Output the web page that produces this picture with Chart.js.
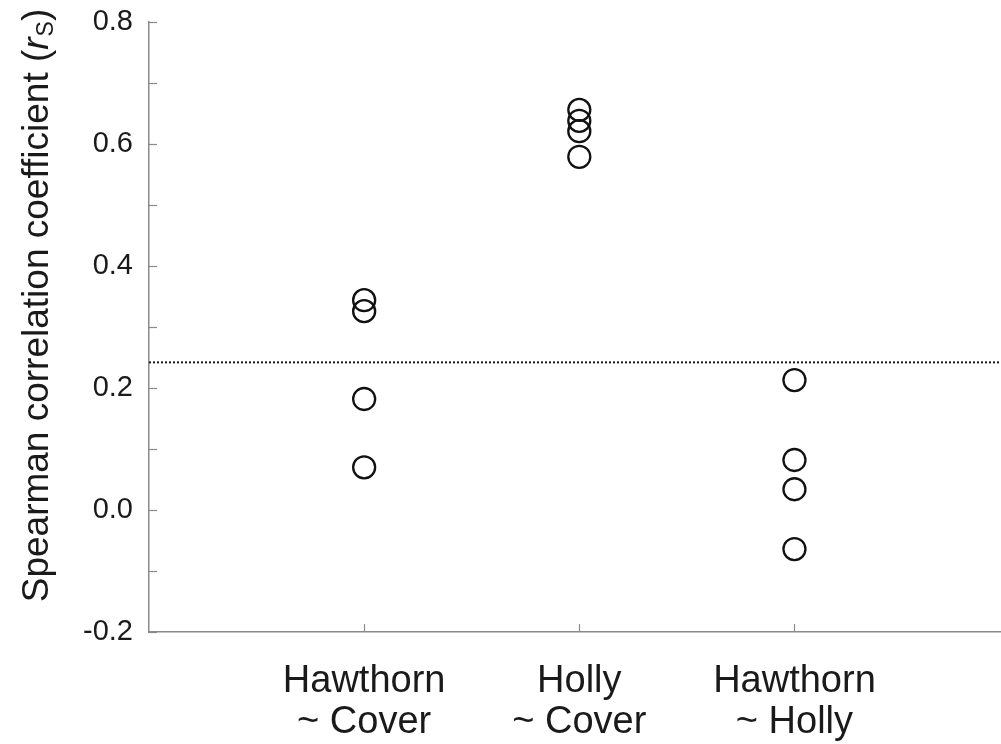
<!DOCTYPE html>
<html>
<head>
<meta charset="utf-8">
<style>
  html, body { margin: 0; padding: 0; background: #fff; }
  canvas { display: block; }
</style>
<script src="https://cdn.jsdelivr.net/npm/chart.js@4/dist/chart.umd.min.js"></script>
</head>
<body>
<canvas id="chart" width="1001" height="744"></canvas>
<script>
// Spearman coefficients per comparison
const categories = [["Hawthorn", "~ Cover"], ["Holly", "~ Cover"], ["Hawthorn", "~ Holly"]];
const hawthornCover = [0.344, 0.326, 0.182, 0.070];
const hollyCover = [0.656, 0.638, 0.621, 0.579];
const hawthornHolly = [0.213, 0.082, 0.034, -0.064];
const threshold = 0.242;
const yTickValues = [-0.2, -0.1, 0.0, 0.1, 0.2, 0.3, 0.4, 0.5, 0.6, 0.7, 0.8];
const categoryPositions = [1, 2, 3];

const FONT = "'Liberation Sans', Arial, Helvetica, sans-serif";
const AXIS_COLOR = '#8a8a8a';

function pointsFor(values, pos) {
  return values.map(v => ({ x: pos, y: v }));
}

const seriesList = [hawthornCover, hollyCover, hawthornHolly];
const datasets = seriesList.map((vals, i) => ({
  label: categories[i].join(' '),
  data: pointsFor(vals, categoryPositions[i]),
  pointRadius: 11,
  pointHoverRadius: 11,
  pointBorderWidth: 2.3,
  pointBorderColor: '#111',
  pointBackgroundColor: 'rgba(0,0,0,0)',
  showLine: false
}));

// dotted reference line across the plot
datasets.push({
  label: 'threshold',
  data: [{ x: 0, y: threshold }, { x: 3.96, y: threshold }],
  showLine: true,
  borderColor: '#1a1a1a',
  borderWidth: 2,
  borderDash: [2, 2],
  pointRadius: 0,
  fill: false
});

// tick marks pointing into the plot area
const innerTicks = {
  id: 'innerTicks',
  afterDraw(chart) {
    const { ctx, chartArea, scales } = chart;
    ctx.save();
    ctx.strokeStyle = AXIS_COLOR;
    ctx.lineWidth = 1.2;
    yTickValues.forEach(v => {
      const y = Math.round(scales.y.getPixelForValue(v)) + 0.5;
      ctx.beginPath();
      ctx.moveTo(chartArea.left, y);
      ctx.lineTo(chartArea.left + 8, y);
      ctx.stroke();
    });
    categoryPositions.forEach(p => {
      const x = Math.round(scales.x.getPixelForValue(p)) + 0.5;
      ctx.beginPath();
      ctx.moveTo(x, chartArea.bottom);
      ctx.lineTo(x, chartArea.bottom - 8);
      ctx.stroke();
    });
    ctx.restore();
  }
};

// rotated y-axis title with italic r and subscript S
const yTitle = {
  id: 'yTitle',
  afterDraw(chart) {
    const { ctx } = chart;
    const main = '37px ' + FONT;
    const ital = 'italic 37px ' + FONT;
    const sub = '23px ' + FONT;
    const parts = [
      { t: 'Spearman correlation coefficient (', f: main, dy: 0 },
      { t: 'r', f: ital, dy: 0 },
      { t: 'S', f: sub, dy: 5 },
      { t: ')', f: main, dy: 0 }
    ];
    ctx.save();
    let total = 0;
    parts.forEach(p => { ctx.font = p.f; p.w = ctx.measureText(p.t).width; total += p.w; });
    ctx.translate(48, 306);
    ctx.rotate(-Math.PI / 2);
    ctx.fillStyle = '#1a1a1a';
    ctx.textBaseline = 'alphabetic';
    let x = -total / 2;
    parts.forEach(p => {
      ctx.font = p.f;
      ctx.fillText(p.t, x, p.dy);
      x += p.w + (p.t === 'r' ? 1 : 0);
    });
    ctx.restore();
  }
};

new Chart(document.getElementById('chart'), {
  type: 'scatter',
  data: { datasets },
  options: {
    responsive: false,
    animation: false,
    events: [],
    layout: { autoPadding: false, padding: { top: 22, right: 0, left: 0, bottom: 0 } },
    plugins: {
      legend: { display: false },
      tooltip: { enabled: false }
    },
    scales: {
      x: {
        type: 'linear',
        min: 0,
        max: 3.96,
        afterBuildTicks(scale) {
          scale.ticks = categoryPositions.map(v => ({ value: v }));
        },
        afterFit(scale) {
          scale.height = 112;
          scale.paddingLeft = 0;
          scale.paddingRight = 0;
        },
        grid: { display: true, drawOnChartArea: false, drawTicks: false },
        border: { color: AXIS_COLOR, width: 1.5 },
        ticks: {
          padding: 29,
          color: '#1a1a1a',
          font: { family: FONT, size: 38, lineHeight: 1.08 },
          maxRotation: 0,
          autoSkip: false,
          callback(value) {
            const i = categoryPositions.indexOf(value);
            return i >= 0 ? categories[i] : '';
          }
        }
      },
      y: {
        min: -0.2,
        max: 0.8,
        afterBuildTicks(scale) {
          scale.ticks = yTickValues.map(v => ({ value: v }));
        },
        afterFit(scale) {
          scale.width = 149;
          scale.paddingTop = 0;
          scale.paddingBottom = 0;
        },
        grid: { display: true, drawOnChartArea: false, drawTicks: false },
        border: { color: AXIS_COLOR, width: 1.5 },
        ticks: {
          padding: 16,
          color: '#1a1a1a',
          font: { family: FONT, size: 29 },
          autoSkip: false,
          callback(value) {
            const k = Math.round(value * 10);
            return k % 2 === 0 ? (k / 10).toFixed(1) : '';
          }
        }
      }
    }
  },
  plugins: [innerTicks, yTitle]
});
</script>
</body>
</html>
